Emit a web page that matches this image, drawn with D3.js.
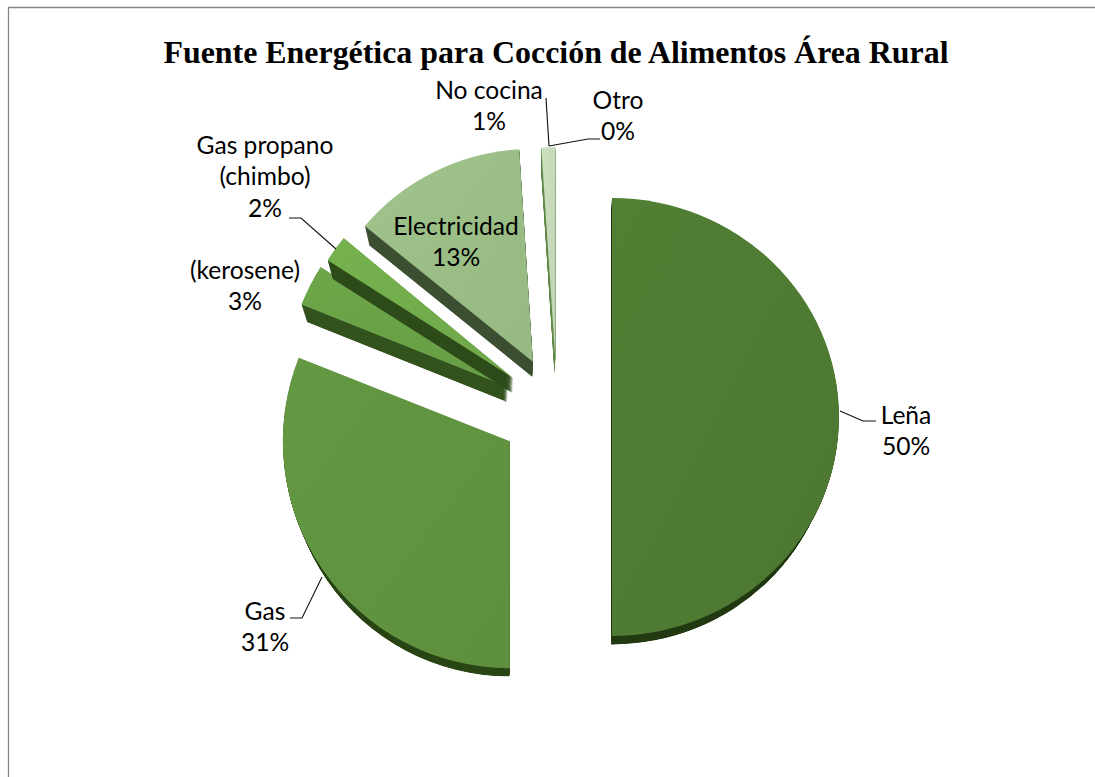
<!DOCTYPE html>
<html><head><meta charset="utf-8">
<script src="https://cdn.jsdelivr.net/npm/d3@7/dist/d3.min.js"></script>
<style>html,body{margin:0;padding:0;background:#fff}svg{display:block}</style>
</head><body><div id="chart"></div>
<script>
// ---- data ----
const categories = ["Leña","Gas","(kerosene)","Gas propano (chimbo)","Electricidad","No cocina","Otro"];
const values = [50,31,3,2,13,1,0];
const chartTitle = "Fuente Energética para Cocción de Alimentos Área Rural";
const labelLines = [["Leña","50%"],["Gas","31%"],["(kerosene)","3%"],["Gas propano","(chimbo)","2%"],["Electricidad","13%"],["No cocina","1%"],["Otro","0%"]];
// ---- styles ----
const topColors = ["#4f7a32","#60923f","#68a046","#70ab4b","#99bc85","#c4d8b7","#c4d8b7"];
const wallColors = ["#243b14","#2b4716","#34531f","#2f4d1b","#3e5033","#5f8a48","#5f8a48"];
// ---- layout ----
const W=1095,H=777,cx=557,cy=417;
const explodeX=[55,57,55,54,53,55,55], explodeY=[0,43,66,66,62,58,58];
const radiusX=[227,227,222,220,218,222,222], radiusY=[219,227,224,220,213,212,212];
const depth=15, shrink=0.03, wallSteps=d3.range(1,31).map(i=>i/30).reverse();
const labelX=[906,265,245,265,456,489,618];
const labelY=[415,611,270,145,226,90,100];
const lineStep=31.5;
const leaders=[[[840,411],[863,421],[876,421]],[[322,577],[302,618],[290,618]],null,[[336,249],[301,218],[289,218]],null,[[549,146],[546,98]],[[549,146],[588,139],[600,139]]];

const svg=d3.select("#chart").append("svg").attr("width",W).attr("height",H);
svg.append("rect").attr("width",W).attr("height",H).attr("fill","#fff");
svg.append("path").attr("d",d3.line()([[8.5,H],[8.5,7.5],[W,7.5]])).attr("fill","none").attr("stroke","#868686").attr("stroke-width",1.3);

const defs=svg.append("defs");
topColors.forEach((c,i)=>{
  const g=defs.append("linearGradient").attr("id","g"+i).attr("x1",0).attr("y1",0).attr("x2",1).attr("y2",1);
  g.append("stop").attr("offset",0).attr("stop-color",d3.color(c).brighter(0.12));
  g.append("stop").attr("offset",1).attr("stop-color",d3.color(c).darker(0.06));
});

const pie=d3.pie().sort(null).startAngle(0).endAngle(2*Math.PI)(values);
const arc=d3.arc().innerRadius(0).outerRadius(1);
const slices=svg.append("g").selectAll("g").data(pie).join("g")
  .attr("transform",(d,i)=>{
    const a=(d.startAngle+d.endAngle)/2;
    return `translate(${cx+explodeX[i]*Math.sin(a)},${cy-explodeY[i]*Math.cos(a)})`;
  });
slices.each(function(d,i){
  const g=d3.select(this);
  g.selectAll("path.wall").data(wallSteps).join("path").attr("class","wall")
    .attr("d",arc(d))
    .attr("transform",k=>`translate(${-0.7*k},${depth*k}) scale(${radiusX[i]*(1-shrink*k)},${radiusY[i]*(1-shrink*k)})`)
    .attr("fill",wallColors[i]);
  g.append("path").attr("class","top").attr("d",arc(d))
    .attr("transform",`scale(${radiusX[i]},${radiusY[i]})`)
    .attr("fill",`url(#g${i})`);
});

svg.append("g").selectAll("path").data(leaders.filter(Boolean)).join("path")
  .attr("d",d3.line()).attr("fill","none").attr("stroke","#111").attr("stroke-width",1.1);

svg.append("text").attr("x",556).attr("y",63).attr("text-anchor","middle")
  .attr("font-family","'Liberation Serif',serif").attr("font-weight","bold").attr("font-size",31.9).attr("fill","#000").text(chartTitle);

const lab=svg.append("g").attr("font-family","Lato,'Noto Sans',sans-serif").attr("font-size",24.6).attr("fill","#000").attr("text-anchor","middle");
labelLines.forEach((lines,i)=>{
  lines.forEach((t,j)=>{
    lab.append("text").attr("x",labelX[i]).attr("y",labelY[i]+j*lineStep).attr("dy","0.35em").text(t);
  });
});
</script></body></html>
